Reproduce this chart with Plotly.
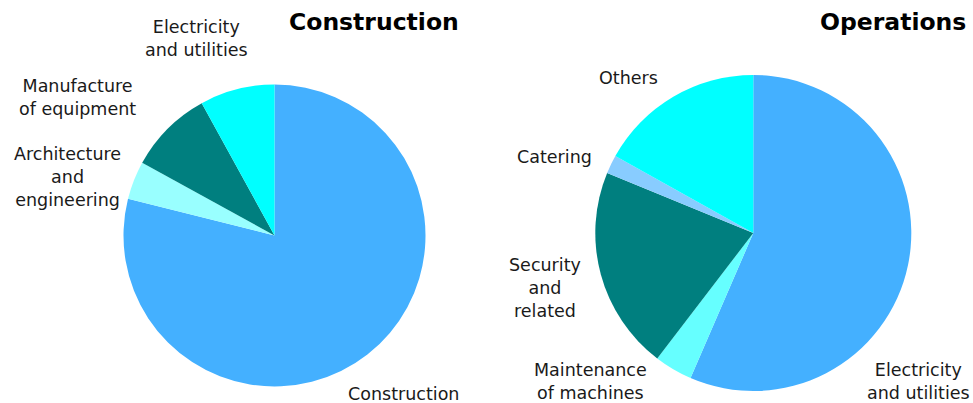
import plotly.graph_objects as go

# Construction pie (clockwise from 12 o'clock)
cons_labels = ["Construction", "Architecture and engineering",
               "Manufacture of equipment", "Electricity and utilities"]
cons_values = [78.9, 4.1, 9.0, 8.0]
cons_colors = ["#44B0FF", "#99FFFF", "#007F7F", "#00FFFF"]

# Operations pie (clockwise from 12 o'clock)
ops_labels = ["Electricity and utilities", "Maintenance of machines",
              "Security and related", "Catering", "Others"]
ops_values = [56.5, 3.9, 20.8, 1.9, 16.9]
ops_colors = ["#44B0FF", "#66FFFF", "#007F7F", "#88CCFF", "#00FFFF"]

W, H = 973, 403
FONT = "DejaVu Sans"

fig = go.Figure()
fig.add_trace(go.Pie(
    labels=cons_labels, values=cons_values, sort=False,
    direction="clockwise", rotation=0,
    marker=dict(colors=cons_colors, line=dict(width=0)),
    textinfo="none", hoverinfo="label+value", showlegend=False,
    domain=dict(x=[123.5 / W, 425.5 / W], y=[(H - 386.5) / H, (H - 84.5) / H]),
))
fig.add_trace(go.Pie(
    labels=ops_labels, values=ops_values, sort=False,
    direction="clockwise", rotation=0,
    marker=dict(colors=ops_colors, line=dict(width=0)),
    textinfo="none", hoverinfo="label+value", showlegend=False,
    domain=dict(x=[595.3 / W, 911.3 / W], y=[(H - 391) / H, (H - 75) / H]),
))

def wrap(label, breaks):
    words = label.split(" ")
    out = []
    for i, w in enumerate(words):
        out.append(w)
        if i < len(words) - 1:
            out.append("<br>" if i in breaks else " ")
    return "".join(out)

# label anchor centres in pixels
label_specs = [
    (cons_labels[3], {0}, 196, 38),
    (cons_labels[2], {0}, 77, 98),
    (cons_labels[1], {0, 1}, 67, 177),
    (cons_labels[0], set(), 403, 394),
    (ops_labels[4], set(), 628, 78),
    (ops_labels[3], set(), 554, 157),
    (ops_labels[2], {0, 1}, 545, 288),
    (ops_labels[1], {0}, 590, 381),
    (ops_labels[0], {0}, 918, 381),
]
annotations = []
for lab, br, px, py in label_specs:
    annotations.append(dict(
        text=wrap(lab, br), x=px / W, y=(H - py) / H, xref="paper", yref="paper",
        xanchor="center", yanchor="middle", showarrow=False, align="center",
        font=dict(family=FONT, size=17.5, color="#1a1a1a"),
    ))

for title, right in [("Construction", 461), ("Operations", 968)]:
    annotations.append(dict(
        text="<b>" + title + "</b>", x=right / W, y=(H - 22) / H,
        xref="paper", yref="paper", xanchor="right", yanchor="middle",
        showarrow=False, font=dict(family=FONT, size=23.5, color="#000000"),
    ))

fig.update_layout(
    width=W, height=H, margin=dict(l=0, r=0, t=0, b=0),
    paper_bgcolor="white", plot_bgcolor="white",
    annotations=annotations,
)
fig.write_html("out.html", config={"displayModeBar": False},
               post_script="document.body.style.margin='0';document.body.style.overflow='hidden';")
